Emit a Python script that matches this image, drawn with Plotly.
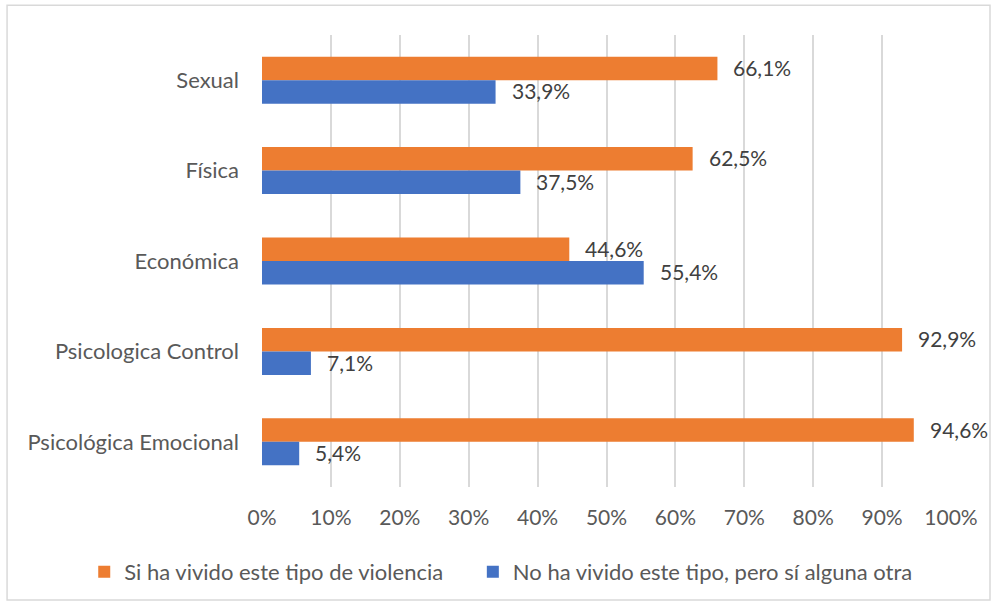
import plotly.graph_objects as go

# Violence types, listed top to bottom
categories = ["Sexual", "Física", "Económica", "Psicologica Control", "Psicológica Emocional"]
si_vivido = [66.1, 62.5, 44.6, 92.9, 94.6]
no_vivido = [33.9, 37.5, 55.4, 7.1, 5.4]
series_names = ["Si ha vivido este tipo de violencia", "No ha vivido este tipo, pero sí alguna otra"]
x_ticks = list(range(0, 101, 10))
x_tick_labels = [f"{v}%" for v in x_ticks]

ORANGE = "#ED7D31"
BLUE = "#4472C4"
FONT = "Lato, Open Sans, sans-serif"
BAR_HALF = 11.75  # vertical offset (px) of each bar from its category centre


def pct_label(v):
    return f"{v:.1f}%".replace(".", ",")


fig = go.Figure()
for name, vals, color, shift, leg in [(series_names[0], si_vivido, ORANGE, BAR_HALF, "legend"),
                                      (series_names[1], no_vivido, BLUE, -BAR_HALF, "legend2")]:
    fig.add_trace(go.Bar(
        y=categories, x=vals, name=name, orientation="h", legend=leg,
        marker=dict(color=color, line=dict(width=0)),
    ))
    # value labels placed just right of each bar end
    for cat, v in zip(categories, vals):
        fig.add_annotation(x=v, y=cat, text=pct_label(v), showarrow=False,
                           xanchor="left", yanchor="middle", xshift=14, yshift=shift + 1,
                           font=dict(size=21, color="#404040", family=FONT))

# Light frame around the whole chart
fig.add_shape(type="rect", xref="paper", yref="paper",
              x0=-0.370, x1=1.0566, y0=-0.250, y1=1.066,
              line=dict(color="#d9d9d9", width=1.5), fillcolor="rgba(0,0,0,0)")

legend_common = dict(orientation="h", y=-0.188, yanchor="middle", xanchor="left",
                     font=dict(size=22, color="#595959"), itemwidth=30,
                     bgcolor="rgba(0,0,0,0)")

fig.update_layout(
    width=995, height=605,
    margin=dict(l=262, r=44, t=35, b=118),
    paper_bgcolor="white", plot_bgcolor="white",
    barmode="group", bargap=0.48, bargroupgap=0,
    font=dict(family=FONT, color="#595959", size=21),
    legend=dict(x=-0.258, **legend_common),
    legend2=dict(x=0.306, **legend_common),
    xaxis=dict(range=[0, 100], tickvals=x_ticks, ticktext=x_tick_labels,
               showgrid=True, gridcolor="#d9d9d9", gridwidth=1.5,
               zeroline=False, showline=False, ticks="",
               tickfont=dict(size=21, color="#595959"), ticklabelstandoff=16,
               fixedrange=True),
    yaxis=dict(autorange="reversed", showgrid=False, zeroline=False,
               showline=False, ticks="", tickfont=dict(size=22, color="#595959"),
               ticklabelstandoff=22, fixedrange=True),
    showlegend=True,
)

fig.write_html("out.html")
